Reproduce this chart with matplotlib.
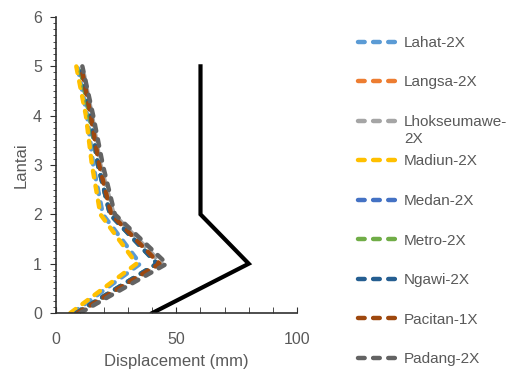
import matplotlib.pyplot as plt
from matplotlib.ticker import MultipleLocator

plt.rcParams['font.family'] = ['Liberation Sans', 'DejaVu Sans']

# floors and displacements (mm)
floors = [0, 1, 2, 3, 4, 5]
names = ['Lahat-2X', 'Langsa-2X', 'Lhokseumawe-', 'Madiun-2X', 'Medan-2X',
         'Metro-2X', 'Ngawi-2X', 'Pacitan-1X', 'Padang-2X']
colors = ['#5B9BD5', '#ED7D31', '#A5A5A5', '#FFC000', '#4472C4',
          '#70AD47', '#255E91', '#9E480E', '#636363']
lahat = [7, 35, 19.5, 15.5, 13, 9]
langsa = [9, 43, 23, 18, 14.5, 10.5]
lhokseumawe = [9.5, 44, 24, 18.5, 15, 11]
madiun = [6, 33.5, 18.5, 15, 12.5, 8.5]
medan = [8.5, 42, 22.5, 17.5, 14, 10]
metro = [8.5, 42, 22.5, 17.5, 14, 10]
ngawi = [8.5, 42, 22.5, 17.5, 14.5, 10.5]
pacitan = [9, 43, 23, 18, 14.5, 10.5]
padang = [10, 46, 24.5, 19.5, 15.5, 11]
limit = [40, 80, 60, 60, 60, 60]

series = [lahat, langsa, lhokseumawe, madiun, medan, metro, ngawi, pacitan, padang]

fig = plt.figure(figsize=(5.12, 3.86), dpi=100)
ax = fig.add_axes([0.109, 0.189, 0.471, 0.767])

ax.plot(limit, floors, color='black', lw=3, solid_joinstyle='miter')
for vals, name, c in zip(series, names, colors):
    ax.plot(vals, floors, color=c, lw=3.2, dashes=(1.5, 1.9), dash_capstyle='round', label=name)

ax.set_xlim(0, 100)
ax.set_ylim(0, 6)
ax.set_xticks([0, 50, 100])
ax.xaxis.set_minor_locator(MultipleLocator(10))
ax.yaxis.set_minor_locator(MultipleLocator(0.125))
for s in ['top', 'right']:
    ax.spines[s].set_visible(False)
for s in ['left', 'bottom']:
    ax.spines[s].set_color('#303030')
    ax.spines[s].set_linewidth(1.2)
ax.tick_params(axis='x', which='both', direction='in', length=4, color='#303030', pad=14)
ax.tick_params(axis='y', which='major', direction='out', length=4, color='#303030', pad=6)
ax.tick_params(axis='y', which='minor', direction='out', length=2.5, color='#303030')
ax.tick_params(labelsize=11.5, labelcolor='#595959')
ax.set_xlabel('Displacement (mm)', fontsize=12, color='#595959', labelpad=5)
ax.set_ylabel('Lantai', fontsize=12, color='#595959', labelpad=3)

leg = ax.legend(loc='upper left', bbox_to_anchor=(1.254, 0.936), frameon=False,
                fontsize=11, labelcolor='#595959', handlelength=2.4,
                handletextpad=0.6, labelspacing=1.67, borderaxespad=0, borderpad=0)

# wrapped second line of the long legend label
fig.canvas.draw()
bb = leg.get_texts()[2].get_window_extent()
W, H = fig.canvas.get_width_height()
fig.text(bb.x0 / W, (bb.y0 - 3) / H, '2X', fontsize=11, color='#595959', va='top', ha='left')

fig.savefig('out.png', dpi=100)
